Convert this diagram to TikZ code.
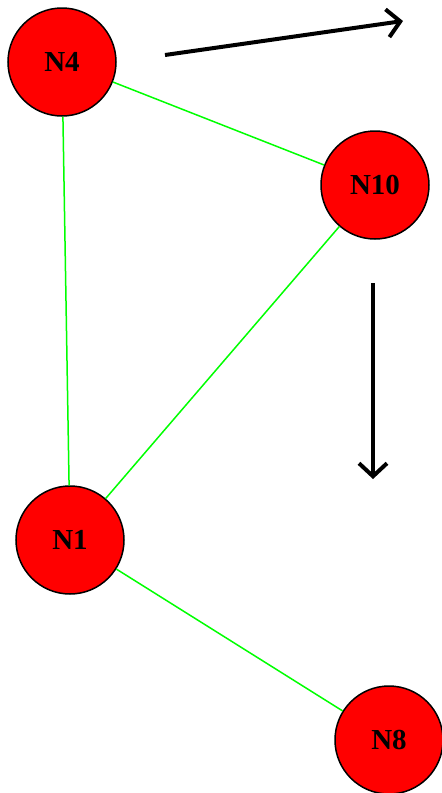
\documentclass[tikz,border=0pt]{standalone}
\usepackage{fontspec}
\setmainfont{Liberation Serif}
\usepackage{tikz}
\usetikzlibrary{arrows.meta}
\tikzset{
    vertex/.style={draw=black, fill=red, circle, line width=1.5pt, minimum size=108pt, inner sep=0pt, font=\fontsize{29}{29}\selectfont\bfseries},
    link/.style={draw=green, line width=1.5pt},
    flow/.style={line width=4pt, -{Straight Barb[length=13pt, width=28pt]}}
}

\begin{document}
\begin{tikzpicture}[x=1pt, y=-1pt]
\useasboundingbox (0,0) rectangle (442,793);
\node[vertex] (N4) at (62,62) {N4};
\node[vertex] (N10) at (375,185) {N10};
\node[vertex] (N1) at (70,540) {N1};
\node[vertex] (N8) at (389,740) {N8};
% links
\draw[link] (N4) -- (N10);
\draw[link] (N4) -- (N1);
\draw[link] (N10) -- (N1);
\draw[link] (N1) -- (N8);
% direction arrows
\coordinate (r0) at (165,55);
\coordinate (r1) at (403,21);
\coordinate (d0) at (373,283);
\coordinate (d1) at (373,479);
\draw[flow] (r0) -- (r1);
\draw[flow] (d0) -- (d1);
\end{tikzpicture}
\end{document}
